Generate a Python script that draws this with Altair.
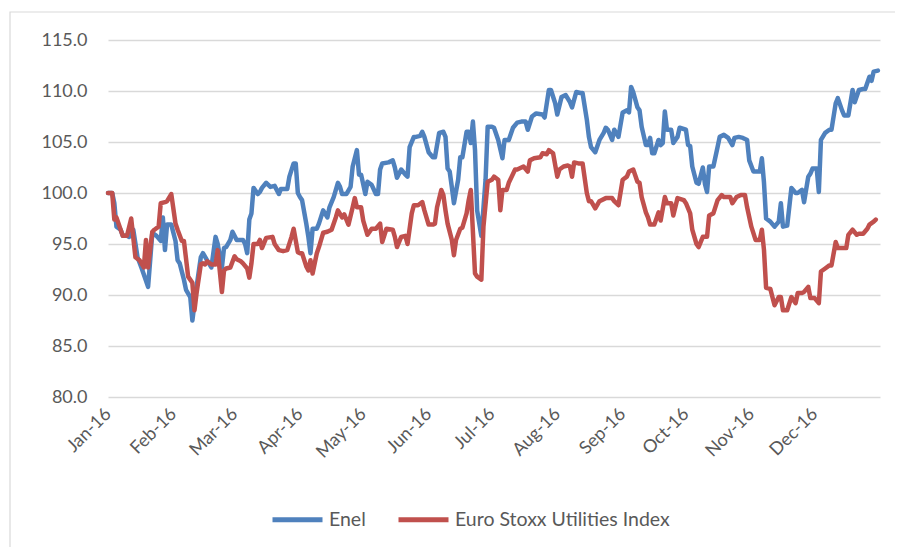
import altair as alt
import pandas as pd

# Day-of-year offsets (from 1 Jan 2016) and rebased values
enel_days = [0,2,3,4,6,7,9,10,12,14,16,19,20,21,23,25,26,27,28,30,32,33,34,36,37,39,40,42,44,45,47,49,51,52,54,55,56,58,59,61,64,65,66,67,68,69,71,72,73,75,77,79,81,82,85,86,88,89,90,91,92,94,95,96,97,99,100,102,104,105,107,109,110,111,113,115,116,118,119,120,122,123,125,127,128,129,130,133,135,136,137,139,141,142,143,145,146,148,149,150,152,154,155,156,157,159,160,161,162,163,164,166,167,168,170,171,172,173,174,175,177,179,180,182,183,185,187,188,190,192,194,196,198,199,201,203,206,207,209,210,212,213,215,217,219,220,222,224,225,227,228,229,231,233,235,236,237,239,240,242,244,246,247,248,249,251,252,253,255,256,257,258,259,261,262,263,264,265,267,268,270,271,274,275,276,277,279,280,282,283,284,285,287,289,290,292,294,296,297,299,301,303,304,306,307,309,310,311,312,314,316,318,319,320,322,324,326,327,329,330,332,333,334,336,337,338,340,342,343,345,346,348,349,351,353,354,356,358,359,361,362,363,365]
enel_vals = [100,100,99.0,96.7,96.4,95.8,95.8,95.7,96.4,93.7,92.6,90.8,93.4,96.1,95.8,95.3,97.6,94.4,96.9,96.9,95.3,93.4,93.1,91.5,90.5,89.8,87.5,90.8,93.7,94.1,93.4,92.7,95.7,95.0,92.7,94.6,94.7,95.4,96.2,95.4,95.4,95.0,94.1,97.4,98.0,100.5,99.9,100.1,100.5,101.0,100.6,100.7,99.9,100.4,100.4,101.6,102.9,102.9,100.0,99.6,99.3,97.0,95.7,94.1,96.5,96.5,97.0,98.3,97.6,98.6,99.6,101.0,100.6,99.9,99.9,100.6,102.6,104.2,101.8,101.8,99.9,101.1,100.8,99.9,99.9,102.3,102.9,103.0,103.2,102.5,101.5,102.3,101.8,101.6,104.5,105.5,105.5,105.6,106.0,105.5,104.0,103.5,103.5,104.7,105.9,106.0,105.5,102.4,102.1,100.6,99.0,101.3,103.5,103.5,106.0,106.0,104.9,107.0,104.2,98.3,95.8,101.3,106.5,106.5,106.4,105.2,103.4,105.2,105.2,106.4,106.9,107.0,107.0,106.2,107.5,107.8,107.7,107.4,110.1,110.1,108.8,107.7,109.4,109.6,108.9,108.4,109.9,109.8,109.8,107.2,105.5,104.5,104.0,105.2,105.9,106.4,106.2,105.2,106.2,105.5,107.9,108.1,107.9,110.4,109.9,108.4,108.1,106.5,104.7,104.7,105.4,103.9,103.9,105.2,104.7,104.9,108.0,106.2,106.2,104.9,105.5,106.4,106.2,104.7,104.6,102.6,101.0,100.9,102.5,100.9,100.1,102.6,102.6,104.5,105.5,105.7,105.4,104.7,105.4,105.5,105.4,105.2,103.2,102.1,102.1,102.1,103.4,101.0,97.5,97.2,96.7,97.2,99.0,96.7,96.8,100.5,100.0,100.0,100.3,99.1,101.6,101.9,102.4,102.4,100.1,105.2,105.9,106.2,106.2,108.8,109.3,108.1,107.6,107.6,110.1,108.9,110.1,110.2,110.2,111.4,111.0,111.9,112.0]

stoxx_days = [0,2,3,4,6,7,9,11,13,15,17,18,19,21,22,24,25,27,28,30,32,33,35,36,38,40,41,42,44,45,46,47,49,51,52,54,55,56,58,60,61,63,64,66,67,68,69,71,72,73,75,78,79,81,83,85,87,88,90,91,92,94,95,96,97,99,100,102,104,106,108,109,111,112,114,116,117,118,120,121,123,125,127,129,130,132,135,136,137,139,141,142,144,145,147,149,150,152,154,155,156,158,159,160,161,163,164,165,167,168,170,171,172,174,175,177,178,180,182,183,185,186,187,189,190,193,194,197,199,200,202,205,206,208,209,211,213,214,216,218,219,220,221,223,225,227,228,229,231,233,236,237,239,240,242,244,246,247,249,251,252,253,255,256,257,259,261,262,264,265,267,268,270,273,274,276,277,279,280,282,284,285,287,289,291,292,295,296,298,300,302,303,305,307,309,310,311,312,314,316,318,319,320,322,324,326,327,329,330,332,333,335,337,338,340,342,343,345,346,348,350,351,353,355,356,358,360,361,363,364]
stoxx_vals = [100,100,97.4,97.6,96.4,95.8,95.8,97.5,93.7,93.4,92.7,95.4,92.7,96.2,96.4,96.7,99.0,99.1,99.2,99.9,97.0,96.4,95.3,95.3,91.8,91.2,88.5,90.2,93.0,93.1,93.0,93.3,93.0,93.0,94.4,90.3,92.4,92.6,92.7,93.8,93.5,93.3,93.1,92.6,91.7,93.1,95.0,95.0,95.4,94.6,95.6,95.7,95.0,94.4,94.3,94.4,95.7,96.5,94.2,94.1,94.1,92.8,92.4,93.4,92.1,94.1,94.7,96.1,96.2,96.4,97.6,98.3,97.6,97.9,96.9,98.6,99.5,98.6,98.6,97.3,95.9,96.5,96.5,97.0,95.2,96.5,96.4,95.7,94.7,95.7,95.8,95.0,98.0,98.8,98.8,99.1,98.3,96.9,96.9,97.0,98.6,100.3,99.8,98.3,97.0,95.4,93.9,95.4,96.5,96.6,98.0,99.3,100.3,92.1,91.8,91.5,96.7,101.1,101.3,101.6,101.3,98.3,100.3,100.3,101.0,102.3,102.3,102.6,102.1,103.2,103.4,103.5,103.9,103.8,104.2,103.9,101.6,102.3,102.6,102.7,102.6,101.6,103.0,102.9,102.9,100.0,99.2,99.2,98.5,99.2,99.5,99.5,99.5,99.2,98.8,101.3,101.6,102.1,102.3,101.1,101.0,99.6,98.1,97.6,96.9,96.9,98.1,97.3,99.6,99.0,99.0,97.8,99.5,99.3,99.0,98.0,96.4,95.0,94.7,95.7,95.7,97.8,98.0,99.3,99.8,99.6,99.6,99.0,99.6,99.8,99.8,98.6,96.7,95.4,95.4,96.4,94.4,90.7,90.6,89.0,89.8,89.8,88.5,88.5,89.8,89.2,90.2,90.2,90.3,90.8,89.7,89.7,89.2,92.3,92.6,92.9,92.9,95.2,94.6,94.6,94.6,95.9,96.4,95.9,96.0,96.0,96.5,96.9,97.2,97.4]

series_names = ["Enel", "Euro Stoxx Utilities Index"]
series_colors = ["#4f81bd", "#c0504d"]
month_ticks = ["2016-01-01", "2016-02-01", "2016-03-01", "2016-04-01", "2016-05-01", "2016-06-01",
               "2016-07-01", "2016-08-01", "2016-09-01", "2016-10-01", "2016-11-01", "2016-12-01"]
y_ticks = [80, 85, 90, 95, 100, 105, 110, 115]

start = pd.Timestamp("2016-01-01")
rows = []
for name, days, vals in [(series_names[0], enel_days, enel_vals), (series_names[1], stoxx_days, stoxx_vals)]:
    for d, v in zip(days, vals):
        rows.append({"date": (start + pd.Timedelta(days=d)).strftime("%Y-%m-%d"), "value": v, "series": name})
df = pd.DataFrame(rows)

FONT = "Lato"
GREY = "#595959"

lines = alt.Chart(df).mark_line(strokeWidth=4.5, strokeJoin="round", strokeCap="round").encode(
    x=alt.X("date:T",
            scale=alt.Scale(domain=["2016-01-01", "2017-01-01"]),
            axis=alt.Axis(values=month_ticks, format="%b-%y", labelAngle=-45, labelAlign="right",
                          labelBaseline="middle", labelPadding=14, ticks=False, domain=False,
                          grid=False, title=None, labelFont=FONT, labelFontSize=18,
                          labelColor=GREY, labelOverlap=False)),
    y=alt.Y("value:Q",
            scale=alt.Scale(domain=[80, 115], nice=False, zero=False),
            axis=alt.Axis(values=y_ticks, format=".1f", ticks=False, domain=False, grid=True,
                          gridColor="#d9d9d9", gridWidth=1.5, title=None, labelFont=FONT,
                          labelFontSize=18, labelColor=GREY, labelPadding=21)),
    color=alt.Color("series:N",
                    scale=alt.Scale(domain=series_names, range=series_colors),
                    legend=alt.Legend(title=None, orient="none", legendX=162, legendY=452,
                                      direction="horizontal", symbolType="stroke",
                                      symbolStrokeWidth=5, symbolSize=2500, labelFont=FONT,
                                      labelFontSize=19.5, labelColor=GREY, labelOffset=4,
                                      labelLimit=0, columnPadding=22, padding=0)),
)

frame = alt.Chart(pd.DataFrame({"k": [0]})).mark_rect(fill=None, stroke="#d9d9d9", strokeWidth=1.2).encode(
    x=alt.value(-98), x2=alt.value(900), y=alt.value(-28), y2=alt.value(700)
)

chart = alt.layer(frame, lines).properties(
    width=772, height=357,
    autosize=alt.AutoSizeParams(type="none"),
    padding={"left": 100, "top": 32, "right": 15, "bottom": 150},
).configure_view(stroke=None)

chart.save("out.html", embed_options={"renderer": "svg", "actions": False})
